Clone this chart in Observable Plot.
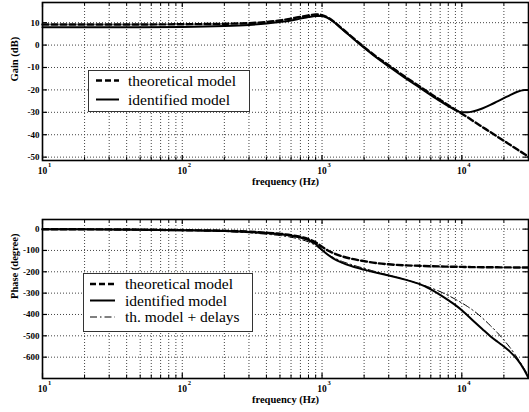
<!DOCTYPE html>
<html>
<head>
<meta charset="utf-8">
<script src="https://cdn.jsdelivr.net/npm/d3@7"></script>
<script src="https://cdn.jsdelivr.net/npm/@observablehq/plot@0.6"></script>
<style>
  html, body { margin: 0; padding: 0; background: #fff; }
  #wrap { position: relative; width: 529px; height: 412px; overflow: hidden; font-family: "Liberation Serif", "Times New Roman", serif; }
  #top, #bot { position: absolute; left: 0; }
  #top { top: 0; }
  #bot { top: 205px; }
  .legend { position: absolute; }
</style>
</head>
<body>
<div id="wrap">
  <div id="top"></div>
  <div id="bot"></div>
  <svg class="legend" id="leg1" style="left:88px;top:70px" width="162" height="42"></svg>
  <svg class="legend" id="leg2" style="left:83px;top:273px" width="170" height="59"></svg>
</div>
<script>
// ---- data ----
const freq = [10, 20, 50, 100, 200, 300, 400, 500, 600, 700, 800, 900, 1000, 1100, 1200, 1400, 1600, 2000, 2500, 3000, 4000, 5000, 6000, 7000, 8000, 9000, 10000, 11000, 12000, 14000, 16000, 18000, 20000, 22000, 25000, 28000, 30000];
const gainTheo = [9.2, 9.2, 9.2, 9.3, 9.5, 9.8, 10.3, 11.0, 11.8, 12.6, 13.2, 13.7, 13.4, 12.3, 10.7, 7.2, 4.1, -0.9, -5.6, -9.0, -14.5, -18.5, -21.8, -24.5, -26.8, -28.9, -30.6, -32.2, -33.8, -36.5, -38.8, -40.9, -42.7, -44.4, -46.6, -48.6, -49.8];
const gainIdent = [8.0, 8.0, 8.0, 8.1, 8.5, 9.0, 9.6, 10.3, 11.0, 11.8, 12.5, 13.0, 13.0, 12.0, 10.5, 7.0, 3.9, -1.2, -6.0, -9.5, -15.0, -19.0, -22.3, -25.0, -27.2, -29.0, -30.0, -30.0, -29.6, -28.3, -26.7, -25.1, -23.7, -22.4, -20.8, -20.1, -20.0];
const phaseTheo = [-0.5, -1, -2.5, -5, -8, -12, -17, -22, -28, -36, -47, -62, -83, -100, -112, -128, -138, -150, -160, -165, -170, -172, -174, -175, -176, -176.5, -177, -177.5, -178, -178.5, -179, -179, -179.5, -179.5, -180, -180, -180];
const phaseIdent = [-0.5, -1, -2.5, -5, -8.5, -13, -18, -24, -31, -40, -52, -70, -98, -120, -137, -158, -172, -190, -206, -217, -238, -258, -282, -308, -333, -356, -380, -405, -428, -468, -502, -528, -550, -573, -612, -660, -698];
const phaseDelay = [-0.5, -1.3, -3.3, -6.7, -11, -17, -24, -30, -38, -48, -60, -77, -100, -119, -132, -152, -165, -184, -202, -216, -238, -257, -275, -293, -311, -329, -346, -363, -380, -416, -452, -486, -520, -553, -604, -655, -688];

const xMajor = [10, 100, 1000, 10000];
const xExp = ["1", "2", "3", "4"];
const gainTicks = [-50, -40, -30, -20, -10, 0, 10];
const phaseTicks = [-600, -500, -400, -300, -200, -100, 0];
const legend1 = ["theoretical model", "identified model"];
const legend2 = ["theoretical model", "identified model", "th. model + delays"];

const FONT = '"Liberation Serif", "Times New Roman", serif';

// minor grid positions (2..9 x each decade) up to the domain end
const xMinor = [];
for (const m of [10, 100, 1000, 10000]) for (let k = 2; k <= 9; k++) if (m * k <= 30000) xMinor.push(m * k);
const xAll = xMajor.concat(xMinor);

const rows = (ys) => freq.map((f, i) => ({f, v: ys[i]}));

const W = 529, ML = 42, MR = 1;
const innerW = W - ML - MR;

function panel({height, mt, mb, domain, ticks, ylabel, series}) {
  const innerH = height - mt - mb;
  const marks = [
    Plot.ruleX(xAll, {x: d => d, stroke: "#444", strokeWidth: 1, strokeDasharray: "1,2"}),
    Plot.ruleY(ticks, {y: d => d, stroke: "#444", strokeWidth: 1, strokeDasharray: "1,2"}),
    Plot.tickX(xMajor, {x: d => d, insetTop: innerH - 5, stroke: "#000", strokeWidth: 1.2}),
    Plot.tickX(xMinor, {x: d => d, insetTop: innerH - 3.5, stroke: "#000"}),
    Plot.tickX(xMajor, {x: d => d, insetBottom: innerH - 5, stroke: "#000", strokeWidth: 1.2}),
    Plot.tickX(xMinor, {x: d => d, insetBottom: innerH - 3.5, stroke: "#000"}),
    Plot.tickY(ticks, {y: d => d, insetRight: innerW - 5, stroke: "#000", strokeWidth: 1.2}),
    Plot.tickY(ticks, {y: d => d, insetLeft: innerW - 5, stroke: "#000", strokeWidth: 1.2}),
    ...series.map(s => Plot.line(rows(s.data), {x: "f", y: "v", stroke: "#000", strokeWidth: s.w, strokeDasharray: s.dash, curve: "monotone-x"})),
    Plot.frame({stroke: "#000", strokeWidth: 1.6}),
    Plot.axisY({ticks, tickSize: 0, tickPadding: 3, fontWeight: "bold", fontSize: 9, label: null, tickFormat: d => String(d)}),
    Plot.text(xMajor, {x: d => d, frameAnchor: "bottom", dy: 13, text: d => "10", fontSize: 9.5, fontWeight: "bold"}),
    Plot.text(xMajor, {x: d => d, frameAnchor: "bottom", dy: 6, dx: 7, text: (d, i) => xExp[i], fontSize: 6.5, fontWeight: "bold"}),
    Plot.text(["frequency (Hz)"], {frameAnchor: "bottom", dy: 24, text: d => d, fontSize: 10.5, fontWeight: "bold"}),
    Plot.text([ylabel], {frameAnchor: "left", dx: -28, rotate: -90, text: d => d, fontSize: 10.5, fontWeight: "bold"})
  ];
  return Plot.plot({
    width: W, height, marginLeft: ML, marginRight: MR, marginTop: mt, marginBottom: mb,
    style: {fontFamily: FONT, background: "white", color: "black", overflow: "visible"},
    x: {type: "log", domain: [10, 30000], axis: null},
    y: {domain, axis: null},
    marks
  });
}

document.getElementById("top").append(panel({
  height: 205, mt: 2, mb: 45, domain: [-51.5, 19], ticks: gainTicks, ylabel: "Gain (dB)",
  series: [
    {data: gainTheo, w: 2.4, dash: "6,3"},
    {data: gainIdent, w: 2}
  ]
}));
document.getElementById("bot").append(panel({
  height: 207, mt: 14, mb: 34, domain: [-700, 45], ticks: phaseTicks, ylabel: "Phase (degree)",
  series: [
    {data: phaseTheo, w: 2.4, dash: "6,3"},
    {data: phaseDelay, w: 1, dash: "7,3,1.5,3"},
    {data: phaseIdent, w: 2}
  ]
}));

// legends
function legend(svgId, labels, w, h, lineX1, lineX2, textX, y0, dy) {
  const svg = d3.select("#" + svgId);
  svg.append("rect").attr("x", 0.5).attr("y", 0.5).attr("width", w - 1).attr("height", h - 1)
    .attr("fill", "white").attr("stroke", "#333").attr("stroke-width", 1);
  const styles = [{w: 2.4, dash: "6,3"}, {w: 2, dash: null}, {w: 1, dash: "7,3,1.5,3"}];
  labels.forEach((lab, i) => {
    const y = y0 + i * dy;
    svg.append("line").attr("x1", lineX1).attr("x2", lineX2).attr("y1", y).attr("y2", y)
      .attr("stroke", "#000").attr("stroke-width", styles[i].w).attr("stroke-dasharray", styles[i].dash);
    svg.append("text").attr("x", textX).attr("y", y + 5).text(lab)
      .attr("font-family", FONT).attr("font-size", 15.5).attr("fill", "#000");
  });
}
legend("leg1", legend1, 162, 42, 8, 31, 40, 10.5, 19);
legend("leg2", legend2, 170, 59, 7, 32, 42, 11, 16.5);
</script>
</body>
</html>
